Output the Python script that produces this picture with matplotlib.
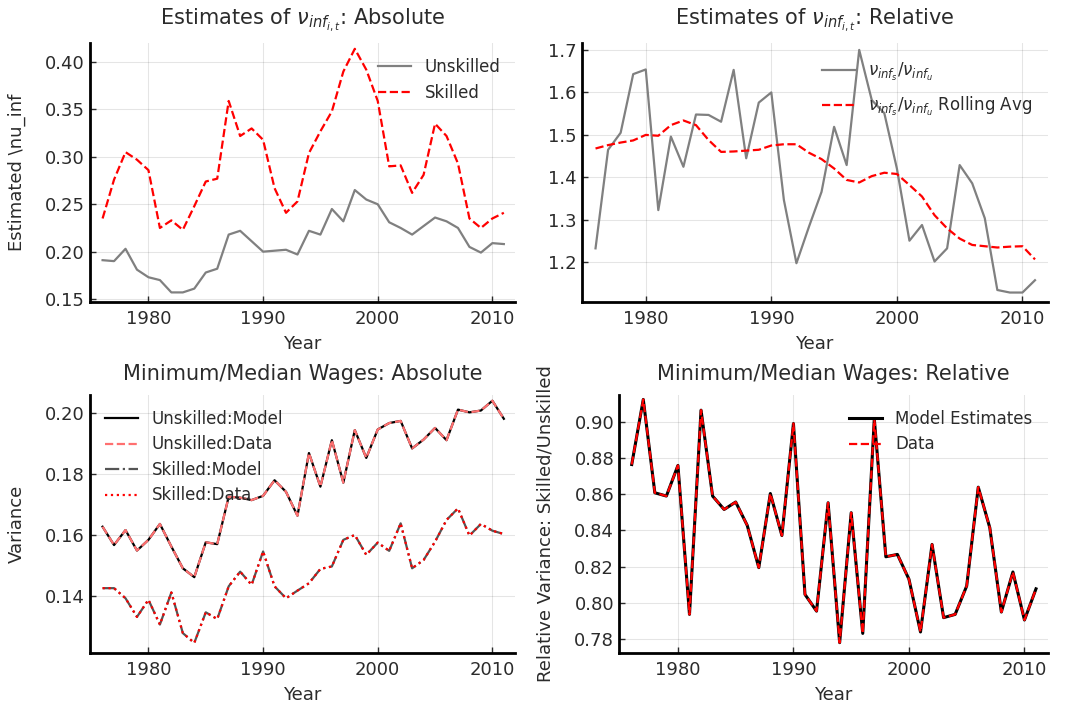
import matplotlib
matplotlib.use("Agg")
import matplotlib.pyplot as plt

years = list(range(1976, 2012))

# top left: absolute nu_inf estimates
nu_unskilled = [0.191, 0.190, 0.203, 0.181, 0.173, 0.170, 0.157, 0.157, 0.161, 0.178,
                0.182, 0.218, 0.222, 0.211, 0.200, 0.201, 0.202, 0.197, 0.222, 0.218,
                0.245, 0.232, 0.265, 0.255, 0.250, 0.231, 0.225, 0.218, 0.227, 0.236,
                0.232, 0.225, 0.205, 0.199, 0.209, 0.208]
nu_skilled = [0.235, 0.276, 0.305, 0.297, 0.286, 0.225, 0.233, 0.223, 0.248, 0.274,
              0.277, 0.359, 0.322, 0.330, 0.318, 0.267, 0.241, 0.253, 0.304, 0.327,
              0.348, 0.390, 0.414, 0.392, 0.359, 0.290, 0.291, 0.262, 0.281, 0.335,
              0.322, 0.293, 0.235, 0.225, 0.235, 0.241]

# top right: relative estimates
nu_ratio = [1.233, 1.465, 1.505, 1.643, 1.654, 1.323, 1.496, 1.425, 1.548, 1.547,
            1.531, 1.653, 1.445, 1.576, 1.600, 1.347, 1.198, 1.284, 1.366, 1.519,
            1.429, 1.700, 1.582, 1.551, 1.421, 1.251, 1.288, 1.202, 1.233, 1.429,
            1.386, 1.304, 1.135, 1.129, 1.129, 1.158]
nu_ratio_roll = [1.468, 1.476, 1.482, 1.487, 1.500, 1.498, 1.523, 1.534, 1.523, 1.488,
                 1.460, 1.461, 1.463, 1.465, 1.475, 1.478, 1.478, 1.458, 1.443, 1.421,
                 1.394, 1.388, 1.403, 1.411, 1.408, 1.382, 1.355, 1.311, 1.280, 1.256,
                 1.241, 1.238, 1.235, 1.237, 1.238, 1.207]

# bottom left: min/median wages variance
var_unskilled = [0.1627, 0.1567, 0.1616, 0.1549, 0.1584, 0.1636, 0.1562, 0.1491, 0.1462, 0.1576,
                 0.1570, 0.1725, 0.1722, 0.1714, 0.1728, 0.1779, 0.1741, 0.1663, 0.1868, 0.1758,
                 0.1910, 0.1771, 0.1943, 0.1852, 0.1945, 0.1966, 0.1973, 0.1883, 0.1912, 0.1950,
                 0.1910, 0.2010, 0.2001, 0.2007, 0.2039, 0.1980]
var_skilled = [0.1426, 0.1426, 0.1393, 0.1332, 0.1388, 0.1307, 0.1412, 0.1279, 0.1247, 0.1347,
               0.1325, 0.1432, 0.1480, 0.1437, 0.1546, 0.1432, 0.1393, 0.1418, 0.1442, 0.1489,
               0.1497, 0.1584, 0.1600, 0.1535, 0.1575, 0.1548, 0.1638, 0.1491, 0.1518, 0.1578,
               0.1649, 0.1687, 0.1598, 0.1636, 0.1614, 0.1603]

# bottom right: relative variance
var_rel = [0.8763, 0.9122, 0.8607, 0.8589, 0.8758, 0.7936, 0.9063, 0.8589, 0.8515, 0.8556,
           0.8427, 0.8194, 0.8603, 0.8371, 0.8989, 0.8046, 0.7954, 0.8552, 0.7780, 0.8497,
           0.7831, 0.9015, 0.8254, 0.8267, 0.8130, 0.7839, 0.8322, 0.7918, 0.7936, 0.8093,
           0.8638, 0.8414, 0.7949, 0.8170, 0.7905, 0.8077]

plt.rcParams['font.family'] = 'DejaVu Sans'
txt = '#2b2b2b'
plt.rcParams['text.color'] = txt
plt.rcParams['axes.labelcolor'] = txt
plt.rcParams['xtick.color'] = txt
plt.rcParams['ytick.color'] = txt

fig = plt.figure(figsize=(10.66, 7.07), dpi=100)
ax1 = fig.add_axes([0.0844, 0.573, 0.399, 0.366])
ax2 = fig.add_axes([0.5457, 0.573, 0.437, 0.366])
ax3 = fig.add_axes([0.0844, 0.0764, 0.399, 0.365])
ax4 = fig.add_axes([0.5807, 0.0764, 0.402, 0.365])


def style(ax):
    for s in ['top', 'right']:
        ax.spines[s].set_visible(False)
    for s in ['left', 'bottom']:
        ax.spines[s].set_linewidth(2)
        ax.spines[s].set_color('black')
    ax.grid(True, color='#000000', alpha=0.1, linewidth=0.8)
    ax.set_axisbelow(True)
    ax.tick_params(direction='in', length=4, width=1, labelsize=13, colors=txt)
    ax.tick_params(axis='x', pad=6)
    ax.set_xlim(1974.9, 2012.0)
    ax.set_xticks([1980, 1990, 2000, 2010])
    ax.set_xlabel('Year', fontsize=13, labelpad=5)


ax1.plot(years, nu_unskilled, color='gray', lw=1.6, label='Unskilled')
ax1.plot(years, nu_skilled, color='red', lw=1.6, ls='--', label='Skilled')
ax1.set_title(r'Estimates of $\nu_{inf_{i,t}}$: Absolute', fontsize=15, pad=13)
ax1.set_ylabel('Estimated \\nu_inf', fontsize=13, labelpad=14)
style(ax1)
ax1.set_ylim(0.147, 0.420)
ax1.set_yticks([0.15, 0.20, 0.25, 0.30, 0.35, 0.40])
ax1.set_yticklabels(['0.15', '0.20', '0.25', '0.30', '0.35', '0.40'])
ax1.legend(loc='upper right', frameon=False, fontsize=12, bbox_to_anchor=(1.0, 1.0),
           labelspacing=0.45)

ax2.plot(years, nu_ratio, color='gray', lw=1.6, label=r'$\nu_{inf_s}/\nu_{inf_u}$')
ax2.plot(years, nu_ratio_roll, color='red', lw=1.6, ls='--',
         label=r'$\nu_{inf_s}/\nu_{inf_u}$ Rolling Avg')
ax2.set_title(r'Estimates of $\nu_{inf_{i,t}}$: Relative', fontsize=15, pad=13)
style(ax2)
ax2.set_ylim(1.107, 1.716)
ax2.set_yticks([1.2, 1.3, 1.4, 1.5, 1.6, 1.7])
ax2.legend(loc='upper right', frameon=False, fontsize=12, bbox_to_anchor=(1.0, 0.99),
           labelspacing=0.75)

ax3.plot(years, var_unskilled, color='black', lw=1.6, label='Unskilled:Model')
ax3.plot(years, var_unskilled, color='#ff7070', lw=1.6, ls='--', label='Unskilled:Data')
ax3.plot(years, var_skilled, color='#555555', lw=1.6, ls='-.', label='Skilled:Model')
ax3.plot(years, var_skilled, color='red', lw=1.6, ls=':', label='Skilled:Data')
ax3.set_title('Minimum/Median Wages: Absolute', fontsize=15, pad=11)
ax3.set_ylabel('Variance', fontsize=13, labelpad=14)
style(ax3)
ax3.set_ylim(0.1214, 0.2058)
ax3.set_yticks([0.14, 0.16, 0.18, 0.20])
ax3.legend(loc='upper left', frameon=False, fontsize=12, bbox_to_anchor=(0.0, 1.0),
           labelspacing=0.45)

ax4.plot(years, var_rel, color='black', lw=2.2, label='Model Estimates')
ax4.plot(years, var_rel, color='red', lw=1.6, ls='--', label='Data')
ax4.set_title('Minimum/Median Wages: Relative', fontsize=15, pad=11)
ax4.set_ylabel('Relative Variance: Skilled/Unskilled', fontsize=13, labelpad=14)
style(ax4)
ax4.set_ylim(0.7723, 0.9147)
ax4.set_yticks([0.78, 0.80, 0.82, 0.84, 0.86, 0.88, 0.90])
ax4.legend(loc='upper right', frameon=False, fontsize=12, bbox_to_anchor=(1.0, 1.0),
           labelspacing=0.45)

fig.savefig('out.png', dpi=100)
